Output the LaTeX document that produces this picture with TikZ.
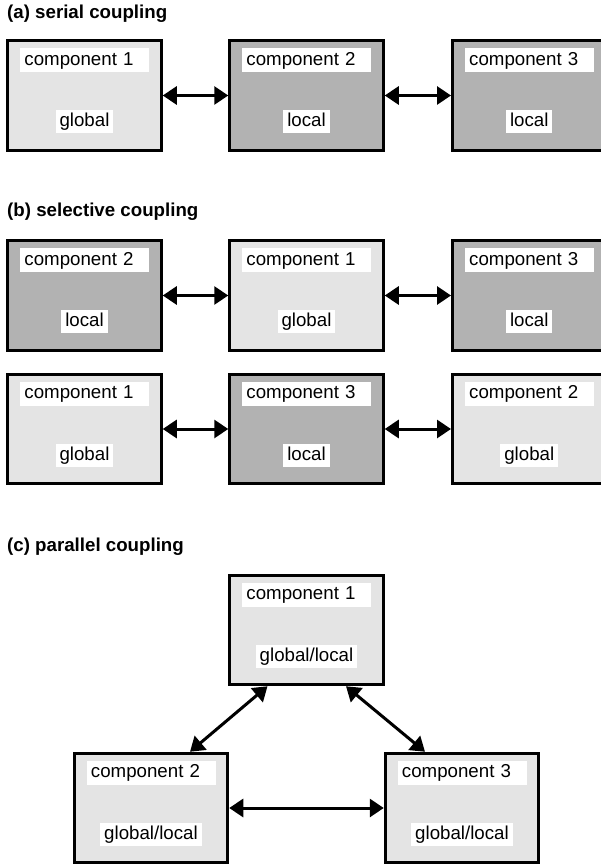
\documentclass[tikz,border=0pt]{standalone}
\usepackage{fontspec}
\setmainfont{Liberation Sans}
\usetikzlibrary{arrows.meta,calc}
\definecolor{lightfill}{gray}{0.894}
\definecolor{darkfill}{gray}{0.698}
\newcommand{\labelfont}{\fontsize{18.7pt}{22pt}\selectfont}
\tikzset{
  compbox/.style={draw=black, line width=3pt, minimum width=153.5pt,
    minimum height=109.5pt, inner sep=0pt},
  globalbox/.style={compbox, fill=lightfill},
  localbox/.style={compbox, fill=darkfill},
  namelabel/.style={fill=white, font=\labelfont, inner xsep=4pt, inner ysep=0pt,
    text width=121pt, align=left, minimum height=24pt,
    text height=13.4pt, text depth=3.6pt, anchor=north west},
  rolelabel/.style={fill=white, font=\labelfont, inner xsep=4pt, inner ysep=0pt,
    minimum height=23pt, text height=13.4pt, text depth=3.6pt},
  heading/.style={font=\labelfont\bfseries, anchor=base west, inner sep=0pt},
  link/.style={line width=3pt,
    {Triangle[length=14pt,width=18pt]}-{Triangle[length=14pt,width=18pt]}}
}
% a component box with its name in the upper left and its role below
% (y grows downwards in this picture)
\newcommand{\component}[5]{%
  \node[#2] (#1) at (#3) {};
  \node[namelabel] (#1-name) at ($(#1.north west)+(14,9)$) {#4};
  \node[rolelabel] (#1-role) at ($(#1.north)+(0,82.5)$) {#5};
}
\begin{document}
\begin{tikzpicture}[x=1pt, y=-1pt]
\clip (0,0) rectangle (601,866);

% (a) serial coupling
\node[heading] (ta) at (7,18.5) {(a) serial coupling};
\component{a1}{globalbox}{84.5,95.5}{component 1}{global}
\component{a2}{localbox}{306.5,95.5}{component 2}{local}
\component{a3}{localbox}{529.25,95.5}{component 3}{local}
\draw[link] (a1.east) -- (a2.west);
\draw[link] (a2.east) -- (a3.west);

% (b) selective coupling
\node[heading] (tb) at (7,217) {(b) selective coupling};
\component{b1}{localbox}{84.5,295.5}{component 2}{local}
\component{b2}{globalbox}{306.5,295.5}{component 1}{global}
\component{b3}{localbox}{529.25,295.5}{component 3}{local}
\draw[link] (b1.east) -- (b2.west);
\draw[link] (b2.east) -- (b3.west);

\component{b4}{globalbox}{84.5,429}{component 1}{global}
\component{b5}{localbox}{306.5,429}{component 3}{local}
\component{b6}{globalbox}{529.25,429}{component 2}{global}
\draw[link] (b4.east) -- (b5.west);
\draw[link] (b5.east) -- (b6.west);

% (c) parallel coupling
\node[heading] (tc) at (7,551) {(c) parallel coupling};
\component{c1}{globalbox}{306.5,630}{component 1}{global/local}
\component{c2}{globalbox}{151,808}{component 2}{global/local}
\component{c3}{globalbox}{462,808}{component 3}{global/local}
\coordinate (c1l) at ($(c1.south)+(-39,0)$);
\coordinate (c1r) at ($(c1.south)+(39.5,0)$);
\coordinate (c2t) at ($(c2.north)+(39,0)$);
\coordinate (c3t) at ($(c3.north)+(-37,0)$);
\draw[link] (c1l) -- (c2t);
\draw[link] (c1r) -- (c3t);
\draw[link] (c2.east) -- (c3.west);
\end{tikzpicture}
\end{document}
